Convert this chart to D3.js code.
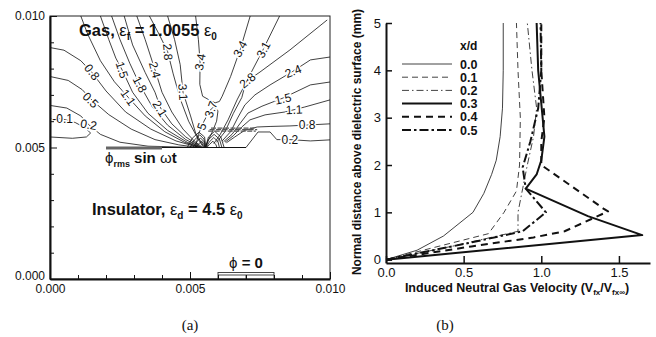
<!DOCTYPE html>
<html>
<head>
<meta charset="utf-8">
<script src="https://cdn.jsdelivr.net/npm/d3@7"></script>
<style>
body{margin:0;background:#fff}
svg{display:block;font-family:"Liberation Sans",Arial,Helvetica,sans-serif}
</style>
</head>
<body>
<div id="chart"></div>
<script>
// ---------- panel (a): potential contours, coordinates in mm ----------
const contourLevels = ['-0.1','0.2','0.5','0.8','1.1','1.5','1.8','2.1','2.4','2.8','3.1','3.4','3.7',
  '3.1','2.8','2.4','1.5','1.1','0.8','0.2',
  '4.0','4.3','4.6','4.9','4.0','4.3','4.6','4.9'];
const contourPaths = [
  [[0,6.1],[0.4,6.1],[0.9,5.95],[1.25,5.75],[1.45,5.55],[1.3,5.4],[0.8,5.35],[0,5.4]],
  [[0,6.6],[0.6,6.5],[1.1,6.2],[1.4,5.85],[1.8,5.5],[2.5,5.2],[3.5,5.05],[5.3,5.0]],
  [[0,7.7],[0.65,7.55],[1.15,7.2],[1.5,6.8],[2.1,6.25],[2.9,5.7],[3.75,5.3],[4.6,5.1],[5.3,5.0]],
  [[0,8.8],[0.5,8.7],[1.1,8.3],[1.5,7.85],[2.0,7.15],[2.7,6.35],[3.6,5.7],[4.5,5.25],[5.32,5.0]],
  [[1.1,10],[1.35,9.3],[1.8,8.3],[2.3,7.5],[2.8,6.9],[3.4,6.2],[4.1,5.6],[4.8,5.2],[5.35,5.0]],
  [[1.8,10],[2.1,9.1],[2.35,8.4],[2.6,7.9],[2.95,7.1],[3.5,6.3],[4.2,5.65],[4.9,5.2],[5.38,5.0]],
  [[2.2,10],[2.5,9.1],[2.85,8.2],[3.2,7.4],[3.65,6.55],[4.2,5.85],[4.85,5.3],[5.4,5.0]],
  [[2.65,10],[2.95,8.9],[3.4,7.85],[3.75,7.1],[3.95,6.5],[4.35,5.9],[4.85,5.4],[5.42,5.0]],
  [[3.1,10],[3.4,9.1],[3.75,7.95],[4.0,7.1],[4.35,6.35],[4.75,5.7],[5.15,5.25],[5.45,5.0]],
  [[3.55,10],[3.9,9.3],[4.2,8.65],[4.4,7.8],[4.65,6.85],[4.95,6.0],[5.25,5.4],[5.48,5.0]],
  [[4.2,10],[4.45,9.1],[4.65,8.15],[4.75,7.1],[5.02,6.2],[5.2,5.55],[5.5,5.02]],
  [[5.2,10],[5.3,9.1],[5.36,8.25],[5.35,7.4],[5.45,6.95],[5.7,6.8],[5.9,6.7],[6.05,6.75],[6.15,6.95],[6.25,7.2],[6.45,7.7],[6.8,8.75],[7.15,10]],
  [[5.2,5.02],[5.3,5.5],[5.5,6.0],[5.7,6.4],[5.85,6.55],[6.0,6.4],[5.95,6.0],[5.8,5.6],[5.62,5.2],[5.56,5.02]],
  [[8.2,10],[7.6,8.7],[7.14,7.76],[6.68,6.81],[6.36,6.05],[6.07,5.48],[5.85,5.15]],
  [[9.9,9.85],[8.57,8.71],[7.5,7.87],[7.0,7.5],[6.85,6.9],[6.55,6.3],[6.25,5.6],[5.95,5.2]],
  [[10,8.44],[9.3,8.33],[8.68,7.9],[7.86,7.38],[7.32,7.0],[6.96,6.62],[6.7,6.12],[6.45,5.6],[6.15,5.25]],
  [[10,7.49],[9.3,7.38],[8.32,6.88],[7.57,6.57],[7.07,6.31],[6.8,5.93],[6.5,5.5],[6.2,5.22]],
  [[10,6.81],[9.1,6.54],[8.39,6.35],[7.68,6.24],[7.14,6.05],[6.85,5.78],[6.55,5.45],[6.25,5.2]],
  [[10,5.9],[9.29,5.86],[8.57,5.82],[7.86,5.8],[7.4,5.78],[6.95,5.65],[6.6,5.4],[6.3,5.18]],
  [[10,5.29],[9.3,5.25],[8.57,5.3],[8.1,5.3],[7.86,5.59],[7.43,5.59],[7.0,5.0]],
  [[4.9,5.0],[5.08,5.35],[5.32,5.58],[5.52,5.4],[5.57,5.0]],
  [[5.0,5.0],[5.15,5.28],[5.35,5.48],[5.5,5.32],[5.55,5.0]],
  [[5.1,5.0],[5.22,5.2],[5.38,5.36],[5.5,5.22],[5.53,5.0]],
  [[5.2,5.0],[5.3,5.13],[5.42,5.24],[5.5,5.1],[5.52,5.0]],
  [[5.55,5.0],[5.66,5.4],[5.88,5.62],[6.1,5.4],[6.22,5.0]],
  [[5.56,5.0],[5.66,5.3],[5.86,5.5],[6.05,5.32],[6.14,5.0]],
  [[5.58,5.0],[5.68,5.2],[5.85,5.38],[6.0,5.22],[6.05,5.0]],
  [[5.6,5.0],[5.7,5.12],[5.82,5.24],[5.93,5.1],[5.96,5.0]]
];
// label text, x (mm), y (mm), angle
const contourLabels = [
  ['0.8',1.5,7.87,52],['0.5',1.45,6.8,45],['-0.1',0.45,6.1,0],['0.2',1.38,5.87,10],
  ['1.1',2.79,6.9,55],['1.5',2.57,7.95,72],['1.8',3.21,7.4,62],['2.1',3.93,6.48,58],
  ['2.4',3.75,7.95,75],['2.8',4.21,8.63,85],['3.1',4.75,7.11,87],['3.4',5.36,8.25,-80],
  ['3.4',6.79,8.75,-62],['3.1',7.62,8.72,-62],['2.8',7.05,7.55,-40],['2.4',8.68,7.9,-22],
  ['1.5',8.32,6.85,-12],['1.1',8.72,6.44,-3],['0.8',9.18,5.86,0],['0.2',8.57,5.3,0],
  ['3.7',5.75,6.45,-70],['5',5.42,5.8,-70]
];
const exposedElectrode = [2.0,4.0];   // x range at the surface (mm)
const groundElectrode = [6.0,8.0];    // x range at the bottom (mm)
const surfaceLine = [2.0,7.0];
const surfaceY = 5.0;
const denseBand = [[5.65,7.35,5.62],[5.7,7.4,5.68],[5.75,7.3,5.74]];
const axisATicks = [0,5,10];
const axisAMinor = [1,2,3,4,6,7,8,9];

// ---------- panel (b): velocity profiles ----------
const xdKeys = ['0.0','0.1','0.2','0.3','0.4','0.5'];
const prof00 = [[0,0],[0.2,0.2],[0.37,0.5],[0.56,1.0],[0.63,1.4],[0.68,1.8],[0.71,2.1],[0.735,2.6],[0.75,3.2],[0.755,4],[0.755,5]];
const prof01 = [[0,0],[0.3,0.25],[0.66,0.55],[0.76,1.0],[0.84,1.45],[0.86,2.0],[0.865,3.0],[0.85,4.0],[0.84,5.0]];
const prof02 = [[0,0],[0.45,0.3],[0.85,0.6],[0.85,1.0],[0.88,1.5],[0.91,2.0],[0.95,2.6],[0.97,3.2],[0.94,4.0],[0.91,5.0]];
const prof03 = [[0,0],[1.65,0.52],[1.3,0.92],[0.9,1.5],[0.97,1.8],[1.0,2.1],[1.02,2.6],[1.0,3.3],[0.98,4.0],[0.97,5.0]];
const prof04 = [[0,0],[0.55,0.28],[0.95,0.47],[1.15,0.6],[1.43,1.02],[1.4,1.08],[1.0,2.0],[1.0,2.5],[1.02,3.0],[1.0,4.0],[1.0,5.0]];
const prof05 = [[0,0],[0.5,0.33],[0.88,0.6],[1.03,1.0],[0.9,1.5],[0.88,1.95],[0.93,2.5],[0.98,3.2],[1.0,4.0],[0.995,5.0]];
const profiles = [prof00,prof01,prof02,prof03,prof04,prof05];
const yTicksB = [0,1,2,3,4,5];
const xTicksB = [0,0.5,1.0,1.5];

const seriesStyle = [
  {w:0.8,dash:null},
  {w:0.8,dash:'6,4'},
  {w:0.8,dash:'7,3,1.5,3'},
  {w:2,dash:null},
  {w:2,dash:'7,5'},
  {w:2,dash:'9,3,2.5,3'}
];

const W = 656, H = 337;
const FONT = '"Liberation Sans", Arial, Helvetica, sans-serif';
const svg = d3.select('#chart').append('svg').attr('width',W).attr('height',H);

//---- panel (a)
const xA = d3.scaleLinear().domain([0,10]).range([50,330]);
const yA = d3.scaleLinear().domain([0,10]).range([279,16]);
const mmFmt = d => (d/1000).toFixed(3);
const gA = svg.append('g').attr('class','panel-a');

const lineA = d3.line().x(d => xA(d[0])).y(d => yA(d[1]));

// frame
gA.append('rect')
  .attr('x',xA(0)).attr('y',yA(10))
  .attr('width',xA(10)-xA(0)).attr('height',yA(0)-yA(10))
  .attr('fill','none').attr('stroke','#222').attr('stroke-width',1);

gA.selectAll('.contour')
  .data(contourPaths)
  .enter()
  .append('path')
  .attr('class','contour')
  .attr('d',lineA)
  .attr('fill','none')
  .attr('stroke','#111')
  .attr('stroke-width',0.8);

gA.selectAll('.band')
  .data(denseBand)
  .enter()
  .append('line')
  .attr('x1',d => xA(d[0])).attr('x2',d => xA(d[1]))
  .attr('y1',d => yA(d[2])).attr('y2',d => yA(d[2]))
  .attr('stroke','#555').attr('stroke-width',1.3).attr('stroke-dasharray','5,1.5');

// dielectric surface + exposed electrode
gA.append('line')
  .attr('x1',xA(surfaceLine[0])).attr('x2',xA(surfaceLine[1]))
  .attr('y1',yA(surfaceY)).attr('y2',yA(surfaceY))
  .attr('stroke','#111').attr('stroke-width',1);
gA.append('line')
  .attr('x1',xA(exposedElectrode[0])).attr('x2',xA(exposedElectrode[1]))
  .attr('y1',yA(surfaceY)+0.5).attr('y2',yA(surfaceY)+0.5)
  .attr('stroke','#666').attr('stroke-width',3);

// contour labels
gA.selectAll('.clabel')
  .data(contourLabels)
  .enter()
  .append('text')
  .attr('class','clabel')
  .attr('transform',d => `translate(${xA(d[1])},${yA(d[2])}) rotate(${d[3]})`)
  .attr('text-anchor','middle')
  .attr('dy','0.35em')
  .attr('font-size',12)
  .attr('fill','#111')
  .attr('stroke','#fff').attr('stroke-width',3).attr('paint-order','stroke')
  .text(d => d[0]);

// grounded electrode
const ge = gA.append('g');
ge.append('rect')
  .attr('x',xA(groundElectrode[0])).attr('y',yA(0)-6.5)
  .attr('width',xA(groundElectrode[1])-xA(groundElectrode[0])).attr('height',6.5)
  .attr('fill','#fff').attr('stroke','#333').attr('stroke-width',0.9);
ge.append('line')
  .attr('x1',xA(groundElectrode[0])).attr('x2',xA(groundElectrode[1]))
  .attr('y1',yA(0)-4).attr('y2',yA(0)-4)
  .attr('stroke','#333').attr('stroke-width',0.9);
ge.append('line')
  .attr('x1',xA(d3.mean(groundElectrode))).attr('x2',xA(d3.mean(groundElectrode)))
  .attr('y1',yA(0)-4).attr('y2',yA(0))
  .attr('stroke','#333').attr('stroke-width',0.9);

// axes
function styleAxis(g, size){
  g.selectAll('text').attr('font-size',size).attr('fill','#111').attr('font-family',FONT);
  g.selectAll('line').attr('stroke','#111');
}
const axLA = gA.append('g').attr('transform',`translate(${xA(0)},0)`)
  .call(d3.axisLeft(yA).tickValues(axisATicks).tickSize(-7).tickSizeOuter(0).tickPadding(5).tickFormat(mmFmt));
axLA.select('.domain').attr('stroke','#111').attr('stroke-width',2);
styleAxis(axLA,12);
axLA.selectAll('.tick text').filter(d => d === 0).attr('dy','0.05em');
const axLAm = gA.append('g').attr('transform',`translate(${xA(0)},0)`)
  .call(d3.axisLeft(yA).tickValues(axisAMinor).tickSize(-4).tickFormat(''));
axLAm.select('.domain').remove();
styleAxis(axLAm,12);

const axBA = gA.append('g').attr('transform',`translate(0,${yA(0)})`)
  .call(d3.axisBottom(xA).tickValues(axisATicks).tickSize(-7).tickSizeOuter(0).tickPadding(5).tickFormat(mmFmt));
axBA.select('.domain').attr('stroke','#111').attr('stroke-width',2);
styleAxis(axBA,12);
const axBAm = gA.append('g').attr('transform',`translate(0,${yA(0)})`)
  .call(d3.axisBottom(xA).tickValues(axisAMinor).tickSize(-4).tickFormat(''));
axBAm.select('.domain').remove();
styleAxis(axBAm,12);

// annotations
const gas = gA.append('text').attr('x',79).attr('y',36)
  .attr('font-size',16.5).attr('font-weight','bold').attr('fill','#111');
gas.append('tspan').text('Gas, ');
gas.append('tspan').attr('font-weight','normal').text('ε');
gas.append('tspan').attr('font-size',10).attr('dy',4).text('f');
gas.append('tspan').attr('dy',-4).text(' = 1.0055 ');
gas.append('tspan').attr('font-weight','normal').text('ε');
gas.append('tspan').attr('font-size',10).attr('dy',4).text('0');

const ins = gA.append('text').attr('x',92).attr('y',215)
  .attr('font-size',16.5).attr('font-weight','bold').attr('fill','#111');
ins.append('tspan').text('Insulator, ');
ins.append('tspan').attr('font-weight','normal').text('ε');
ins.append('tspan').attr('font-size',10).attr('dy',4).text('d');
ins.append('tspan').attr('dy',-4).text(' = 4.5 ');
ins.append('tspan').attr('font-weight','normal').text('ε');
ins.append('tspan').attr('font-size',10).attr('dy',4).text('0');

const phi = gA.append('text').attr('x',105).attr('y',163)
  .attr('font-size',15).attr('font-weight','bold').attr('fill','#111');
phi.append('tspan').attr('font-weight','normal').text('ϕ');
phi.append('tspan').attr('font-size',9).attr('dy',4).text('rms');
phi.append('tspan').attr('dy',-4).text(' sin ');
phi.append('tspan').attr('font-weight','normal').text('ω');
phi.append('tspan').text('t');

const phi0 = gA.append('text').attr('x',xA(d3.mean(groundElectrode))).attr('y',268)
  .attr('text-anchor','middle').attr('font-size',15).attr('font-weight','bold').attr('fill','#111');
phi0.append('tspan').attr('font-weight','normal').text('ϕ');
phi0.append('tspan').text(' = 0');

//---- panel (b)
const xB = d3.scaleLinear().domain([0,1.7]).range([386,650]);
const yB = d3.scaleLinear().domain([-0.07,5]).range([263,23]);
const gB = svg.append('g').attr('class','panel-b');
const lineB = d3.line().x(d => xB(d[0])).y(d => yB(d[1]));

gB.selectAll('.profile')
  .data(profiles)
  .enter()
  .append('path')
  .attr('class','profile')
  .attr('d',lineB)
  .attr('fill','none')
  .attr('stroke','#111')
  .attr('stroke-linejoin','round')
  .attr('stroke-width',(d,i) => seriesStyle[i].w)
  .attr('stroke-dasharray',(d,i) => seriesStyle[i].dash);

const axLB = gB.append('g').attr('transform',`translate(${xB(0)},0)`)
  .call(d3.axisLeft(yB).tickValues(yTicksB).tickSize(-6).tickSizeOuter(0).tickPadding(5).tickFormat(d3.format('d')));
axLB.select('.domain').attr('stroke','#111').attr('stroke-width',2);
styleAxis(axLB,13);
axLB.selectAll('.tick line').attr('stroke-width',1.5);

const axBB = gB.append('g').attr('transform',`translate(0,${yB(-0.07)})`)
  .call(d3.axisBottom(xB).tickValues(xTicksB).tickSize(-7).tickSizeOuter(0).tickPadding(5).tickFormat(d3.format('.1f')));
axBB.select('.domain').attr('stroke','#111').attr('stroke-width',2);
styleAxis(axBB,13);
axBB.selectAll('.tick line').attr('stroke-width',1.5);

gB.append('text')
  .attr('transform','translate(361,142) rotate(-90)')
  .attr('text-anchor','middle')
  .attr('font-size',12).attr('font-weight','bold').attr('fill','#111')
  .text('Normal distance above dielectric surface (mm)');

const xl = gB.append('text').attr('x',517).attr('y',292)
  .attr('text-anchor','middle')
  .attr('font-size',12.5).attr('font-weight','bold').attr('fill','#111');
xl.append('tspan').text('Induced Neutral Gas Velocity (V');
xl.append('tspan').attr('font-size',8).attr('dy',3).text('fx');
xl.append('tspan').attr('dy',-3).text('/V');
xl.append('tspan').attr('font-size',8).attr('dy',3).text('fx∞');
xl.append('tspan').attr('dy',-3).text(')');

// legend
const leg = gB.append('g');
leg.append('text').attr('x',460).attr('y',50)
  .attr('font-size',12).attr('font-weight','bold').attr('fill','#111').text('x/d');
const legRow = leg.selectAll('.leg-row')
  .data(xdKeys)
  .enter()
  .append('g')
  .attr('class','leg-row')
  .attr('transform',(d,i) => `translate(0,${64 + i*13.2})`);
legRow.append('line')
  .attr('x1',402).attr('x2',452)
  .attr('stroke','#111')
  .attr('stroke-width',(d,i) => seriesStyle[i].w)
  .attr('stroke-dasharray',(d,i) => seriesStyle[i].dash);
legRow.append('text')
  .attr('x',460).attr('y',4.5)
  .attr('font-size',12.5).attr('font-weight','bold').attr('fill','#111')
  .text(d => d);

// captions
svg.selectAll('.caption')
  .data([['(a)',190],['(b)',445]])
  .enter()
  .append('text')
  .attr('x',d => d[1]).attr('y',330)
  .attr('text-anchor','middle')
  .attr('font-family','"Liberation Serif","DejaVu Serif",serif')
  .attr('font-size',15).attr('fill','#111')
  .text(d => d[0]);
</script>
</body>
</html>
